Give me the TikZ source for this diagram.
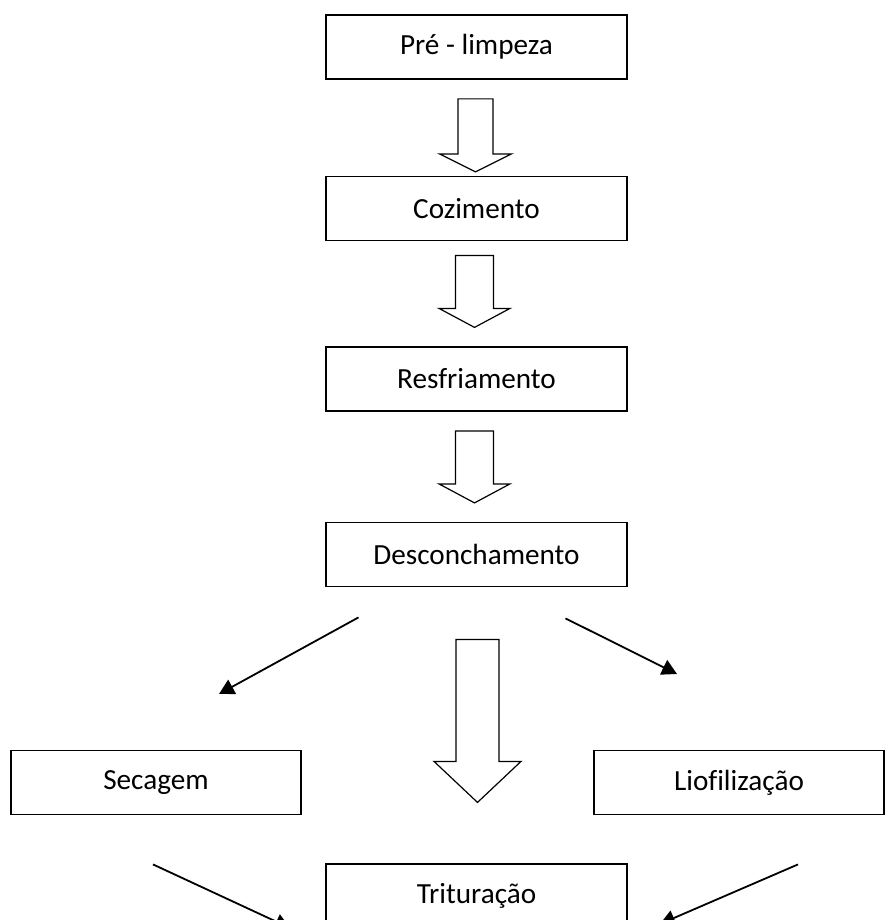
\documentclass[tikz,border=0pt]{standalone}
\usepackage{fontspec}
\setmainfont{Carlito}[Ligatures=NoCommon]
\usetikzlibrary{arrows.meta,calc}

\tikzset{
  pics/blockdown/.style n args={4}{code={%
    \draw[hollow] (-#1,0) -- (-#1,#3) -- (-#2,#3) -- (0,#3+#4) -- (#2,#3) -- (#1,#3) -- (#1,0) -- cycle;
  }},
}

\begin{document}
\begin{tikzpicture}[
  x=0.5pt, y=-0.5pt,
  line cap=butt, line join=miter,
  every node/.style={font=\fontsize{14.6pt}{17pt}\selectfont, inner sep=0pt},
  stage/.style={draw=black, line width=0.9pt, minimum width=150.5pt, minimum height=32pt},
  branch/.style={stage, minimum width=145pt},
  hollow/.style={draw=black, line width=0.6pt, fill=white},
  feed/.style={draw=black, line width=0.9pt, -{Triangle[length=7.5pt, width=8pt]}},
]
\clip (0,0) rectangle (885,920);
\fill[white] (0,0) rectangle (885,920);
% main line
\node[stage] (pre)  at (476.5,47)    {Pré - limpeza};
\node[stage] (coz)  at (476.5,208.5) {Cozimento};
\node[stage] (resf) at (476.5,379)   {Resfriamento};
\node[stage] (desc) at (476.5,554.5) {Desconchamento};
\node[branch] (sec) at (156,782.5)   {Secagem};
\node[branch] (lio) at (739,782.5)   {Liofilização};
\node[stage] (trit) at (476.5,896)   {Trituração};
% block arrows
\pic at ($(pre.south)+(-1,19)$)  {blockdown={17.5}{36}{55}{18}};
\pic at ($(coz.south)+(-2,14)$)  {blockdown={19}{35.5}{53}{19}};
\pic at ($(resf.south)+(-2,19)$) {blockdown={19}{35.5}{53}{19}};
\pic at ($(desc.south)+(1,52)$)  {blockdown={21.5}{43.5}{122}{41}};
% side arrows
\coordinate (ulS) at ($(desc.south)+(-118,30)$);
\coordinate (ulE) at (219,694);
\coordinate (urS) at ($(desc.south)+(89,31)$);
\coordinate (urE) at (677,674);
\coordinate (llS) at ($(sec.south)+(-3,49)$);
\coordinate (llE) at (290,928);
\coordinate (lrS) at ($(lio.south)+(59,49)$);
\coordinate (lrE) at (660,924);
\draw[feed] (ulS) -- (ulE);
\draw[feed] (urS) -- (urE);
\draw[feed] (llS) -- (llE);
\draw[feed] (lrS) -- (lrE);
\end{tikzpicture}
\end{document}
